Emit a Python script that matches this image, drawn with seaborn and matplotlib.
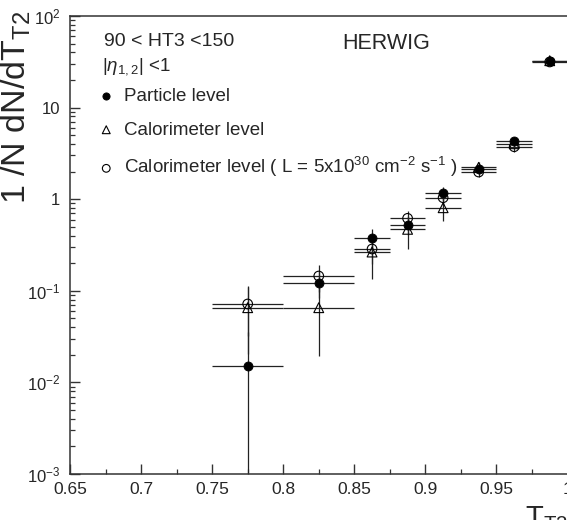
import numpy as np
import pandas as pd
import matplotlib
matplotlib.use("Agg")
import matplotlib.pyplot as plt
import seaborn as sns
from matplotlib.ticker import FixedLocator, FixedFormatter, NullFormatter, MultipleLocator, LogLocator

# ---------------- data ----------------
x_centers = [0.775, 0.825, 0.8625, 0.8875, 0.9125, 0.9375, 0.9625, 0.9875]
x_halfwidth = [0.025, 0.025, 0.0125, 0.0125, 0.0125, 0.0125, 0.0125, 0.0125]

particle = [0.0151, 0.1225, 0.374, 0.523, 1.178, 2.12, 4.32, 32.0]
particle_err_lo = [0.0150, 0.04, 0.10, 0.12, 0.19, 0.25, 0.5, 1.0]
particle_err_hi = [0.02, 0.04, 0.10, 0.12, 0.19, 0.25, 0.5, 1.0]

calo = [0.0654, 0.0654, 0.265, 0.469, 0.807, 2.23, 4.03, 32.5]
calo_err = [0.045, 0.046, 0.13, 0.18, 0.23, 0.3, 0.4, 1.0]

calo_lumi = [0.0718, 0.145, 0.286, 0.618, 1.038, 1.98, 3.74, 31.5]
calo_lumi_err = [0.04, 0.048, 0.09, 0.13, 0.2, 0.22, 0.44, 1.0]

labels = ["Particle level", "Calorimeter level",
          "Calorimeter level ( L = 5x10$^{30}$ cm$^{-2}$ s$^{-1}$ )"]
y_tick_vals = [1e-3, 1e-2, 1e-1, 1, 10, 100]
y_tick_text = ["$10^{-3}$", "$10^{-2}$", "$10^{-1}$", "1", "10", "$10^{2}$"]
x_tick_vals = [0.65, 0.7, 0.75, 0.8, 0.85, 0.9, 0.95, 1.0]
x_tick_text = ["0.65", "0.7", "0.75", "0.8", "0.85", "0.9", "0.95", "1"]

# ---------------- style ----------------
sns.set_theme(style="ticks")
plt.rcParams["font.family"] = ["Liberation Sans", "DejaVu Sans"]
plt.rcParams["mathtext.fontset"] = "custom"
plt.rcParams["mathtext.rm"] = "Liberation Sans"
plt.rcParams["mathtext.it"] = "Liberation Sans:italic"
plt.rcParams["mathtext.bf"] = "Liberation Sans:bold"

W, H = 567, 520
fig = plt.figure(figsize=(W / 100, H / 100), dpi=100)
L, R, T, B = 70, 567.5, 16, 474
ax = fig.add_axes([L / W, 1 - B / H, (R - L) / W, (B - T) / H])

df = pd.DataFrame({
    "x": x_centers, "xerr": x_halfwidth,
    "particle": particle, "p_lo": particle_err_lo, "p_hi": particle_err_hi,
    "calo": calo, "c_err": calo_err,
    "calo_lumi": calo_lumi, "cl_err": calo_lumi_err,
})

ecol = "#222222"
elw = 0.9
# error bars
ax.errorbar(df["x"], df["calo_lumi"], xerr=df["xerr"], yerr=df["cl_err"],
            fmt="none", ecolor=ecol, elinewidth=elw, capsize=0, zorder=2)
ax.errorbar(df["x"], df["calo"], xerr=df["xerr"], yerr=df["c_err"],
            fmt="none", ecolor=ecol, elinewidth=elw, capsize=0, zorder=2)
ax.errorbar(df["x"], df["particle"], xerr=df["xerr"],
            yerr=[df["p_lo"], df["p_hi"]],
            fmt="none", ecolor=ecol, elinewidth=elw, capsize=0, zorder=2)

# markers via seaborn
sns.scatterplot(data=df, x="x", y="particle", marker="o", color="black",
                edgecolor="black", s=42, linewidth=0.6, ax=ax, zorder=4)
h_part = ax.collections[-1]
sns.scatterplot(data=df, x="x", y="calo", marker="^", s=50, linewidth=0.8,
                ax=ax, zorder=3)
h_calo = ax.collections[-1]
h_calo.set_facecolor("none")
h_calo.set_edgecolor("black")
sns.scatterplot(data=df, x="x", y="calo_lumi", marker="o", s=48, linewidth=0.8,
                ax=ax, zorder=3)
h_lumi = ax.collections[-1]
h_lumi.set_facecolor("none")
h_lumi.set_edgecolor("black")

ax.set_yscale("log")
ax.set_xlim(0.65, 1.0)
ax.set_ylim(1e-3, 1e2)

ax.xaxis.set_major_locator(FixedLocator(x_tick_vals))
ax.xaxis.set_major_formatter(FixedFormatter(x_tick_text))
ax.xaxis.set_minor_locator(MultipleLocator(0.025))
ax.yaxis.set_major_locator(FixedLocator(y_tick_vals))
ax.yaxis.set_major_formatter(FixedFormatter(y_tick_text))
ax.yaxis.set_minor_locator(LogLocator(base=10, subs=np.arange(2, 10), numticks=20))
ax.yaxis.set_minor_formatter(NullFormatter())

ax.tick_params(which="major", direction="in", length=7, width=1.0, color="#333333",
               labelsize=12.5, pad=6)
ax.tick_params(which="minor", direction="in", length=3.5, width=0.9, color="#333333")
ax.tick_params(axis="x", which="both", top=False)
ax.tick_params(axis="y", which="both", right=False, pad=7)
ax.tick_params(axis="y", which="major", labelsize=12)
for lab in ax.get_xticklabels() + ax.get_yticklabels():
    lab.set_fontweight("medium")

for s in ["left", "bottom", "top"]:
    ax.spines[s].set_linewidth(1.1)
    ax.spines[s].set_color("#333333")
ax.spines["right"].set_visible(False)
ax.grid(False)

ax.set_ylabel("1 /N dN/dT$_{\\mathrm{T2}}$", fontsize=24.5, loc="top")
ax.yaxis.set_label_coords(-0.074, 1.012)
ax.set_xlabel("T$_{\\mathrm{T2}}$", fontsize=21, loc="right")
ax.xaxis.set_label_coords(1.0, -0.066)
ax.xaxis.label.set_va("top")

ax.text(0.068, 0.945, "90 < HT3 <150", transform=ax.transAxes, fontsize=14,
        va="center", ha="left")
ax.text(0.064, 0.889, "|$\\eta_{1,2}$| <1", transform=ax.transAxes, fontsize=13.5,
        va="center", ha="left")
ax.text(0.547, 0.94, "HERWIG", transform=ax.transAxes, fontsize=15.5,
        va="center", ha="left")

ax.legend([h_part, h_calo, h_lumi], labels, loc="upper left",
          bbox_to_anchor=(0.054, 0.843), frameon=False, fontsize=13.5,
          borderpad=0, borderaxespad=0, handlelength=1.0, handletextpad=0.45,
          labelspacing=0.88, markerscale=0.8)

fig.savefig("out.png", dpi=100)
